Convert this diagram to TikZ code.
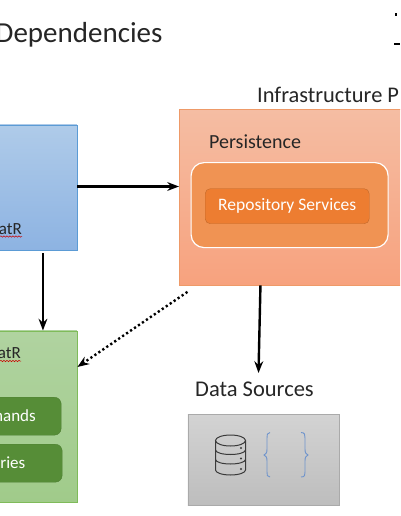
\documentclass[tikz,border=0pt]{standalone}
\usepackage{fontspec}
\setmainfont{Carlito}
\usepackage{xcolor}
\usetikzlibrary{arrows.meta, positioning, decorations.pathmorphing}

\definecolor{inktext}{HTML}{262626}
\definecolor{bracecol}{HTML}{6F94CC}
\definecolor{drumcol}{HTML}{3A3A3A}

\begin{document}
\begin{tikzpicture}[
	x=1pt, y=-1pt,
	panel/.style={draw, rectangle, line width=0.9pt, anchor=north west, inner sep=0pt},
	bluebox/.style={panel, draw={rgb,255:red,91;green,155;blue,213}, top color={rgb,255:red,175;green,203;blue,233}, bottom color={rgb,255:red,141;green,179;blue,226}},
	infrabox/.style={panel, draw={rgb,255:red,238;green,154;blue,104}, top color={rgb,255:red,245;green,189;blue,163}, bottom color={rgb,255:red,247;green,162;blue,126}},
	greenbox/.style={panel, draw={rgb,255:red,127;green,187;blue,90}, top color={rgb,255:red,176;green,211;blue,160}, bottom color={rgb,255:red,160;green,203;blue,138}},
	databox/.style={panel, draw={rgb,255:red,170;green,170;blue,170}, top color={rgb,255:red,211;green,211;blue,211}, bottom color={rgb,255:red,189;green,189;blue,189}},
	pill/.style={draw, rectangle, rounded corners=5pt, anchor=north west, inner sep=0pt, text=white, align=center, font=\fontsize{17.5}{20}\selectfont},
	greenpill/.style={pill, draw={rgb,255:red,78;green,127;blue,50}, fill={rgb,255:red,86;green,141;blue,55}, rounded corners=7pt},
	caption/.style={inner sep=0pt, text=inktext, anchor=base west},
	cutlabel/.style={inner sep=0pt, anchor=base east, font=\fontsize{17}{20}\selectfont},
	arrow/.style={-{Stealth[scale=0.85]}, line width=2.4pt},
	dotarrow/.style={-{Stealth[scale=0.85]}, line width=2.4pt, dash pattern=on 2.2pt off 2.6pt},
	squiggle/.style={red!80!black, line width=0.5pt, decorate, decoration={snake, amplitude=0.7pt, segment length=3pt}}
]
	\clip (0,0) rectangle (400,516);
	\fill[white] (0,0) rectangle (400,516);

	\node (title) [caption, font=\fontsize{29}{32}\selectfont] at (-4.5,43) {Dependencies};
	\fill[black] (395,13.5) rectangle (397,16);
	\fill[black] (394,43.5) rectangle (400,45.5);

	\node (app) [bluebox, minimum width=153pt, minimum height=125pt] at (-76.5,124.5) {};
	\node (infra) [infrabox, minimum width=260pt, minimum height=175pt] at (179,109.5) {};
	\node (domain) [greenbox, minimum width=153pt, minimum height=171.5pt] at (-76.5,330.5) {};
	\node (store) [databox, minimum width=151pt, minimum height=91pt] at (187.5,414) {};

	\node (infralabel) [caption, font=\fontsize{22.4}{25}\selectfont] at (257,102.5) {Infrastructure P};
	\node (persistlabel) [caption, font=\fontsize{20}{22}\selectfont] at (209,148.5) {Persistence};
	\node (persist) [draw=white, fill={rgb,255:red,240;green,147;blue,83}, line width=1.2pt, rectangle, rounded corners=13pt, anchor=north west, minimum width=197pt, minimum height=85pt] at (190.5,162) {};
	\node (repo) [pill, draw={rgb,255:red,192;green,104;blue,42}, fill={rgb,255:red,237;green,125;blue,49}, minimum width=164pt, minimum height=35pt] at (205,188.5) {Repository Services};

	\node (applabel) [cutlabel, text=inktext] at (22,234) {atR};
	\node (domainlabel) [cutlabel, text=inktext] at (21,358.5) {atR};
	\draw[squiggle] (0,236.5) -- (applabel.base east |- 0,236.5);
	\draw[squiggle] (0,361) -- (domainlabel.base east |- 0,361);

	\node (commands) [greenpill, minimum width=121pt, minimum height=38pt] at (-60,397) {};
	\node (queries) [greenpill, minimum width=122pt, minimum height=38pt] at (-60,444) {};
	\node (commandslabel) [cutlabel, text=white] at (36,421) {mands};
	\node (querieslabel) [cutlabel, text=white] at (25.5,468) {ries};

	\node (datalabel) [caption, font=\fontsize{22.5}{25}\selectfont] at (195,396.5) {Data Sources};

	% database drum
	\begin{scope}[drumcol, line width=1pt]
		\draw (215.5,440.5) -- (215.5,470) arc[start angle=180, end angle=360, x radius=15, y radius=-5] -- (245.5,440.5);
		\draw (230.5,440.5) ellipse[x radius=15, y radius=5.5];
		\draw (215.5,450) arc[start angle=180, end angle=360, x radius=15, y radius=-4.5];
		\draw (215.5,459.5) arc[start angle=180, end angle=360, x radius=15, y radius=-4.5];
		\fill (241,448) circle (1.2);
		\fill (241,458.5) circle (1.2);
		\fill (241,469) circle (1.2);
	\end{scope}
	% braces
	\draw[bracecol, line width=0.9pt] (270,432.5) .. controls (267,432.5) and (267,435) .. (267,438) -- (267,449) .. controls (267,453) and (266,454) .. (264,455) .. controls (266,456) and (267,457) .. (267,461) -- (267,472) .. controls (267,475) and (267,477) .. (270,477);
	\draw[bracecol, line width=0.9pt] (301,432.5) .. controls (305,432.5) and (305,435) .. (305,438) -- (305,449) .. controls (305,453) and (306,454) .. (308,455) .. controls (306,456) and (305,457) .. (305,461) -- (305,472) .. controls (305,475) and (305,477) .. (301,477);

	\draw [arrow] (app.east |- 0,186.5) -- (infra.west |- 0,186.5);
	\draw [arrow] ([xshift=42.5pt,yshift=-3pt]app.south) -- ([xshift=42.5pt]domain.north);
	\draw [arrow] ([xshift=-49pt]infra.south) -- ([xshift=71pt,yshift=41pt]store.north west);
	\draw [dotarrow] ([xshift=-122pt,yshift=-6.5pt]infra.south) -- ([yshift=-36.5pt]domain.north east);
\end{tikzpicture}
\end{document}
